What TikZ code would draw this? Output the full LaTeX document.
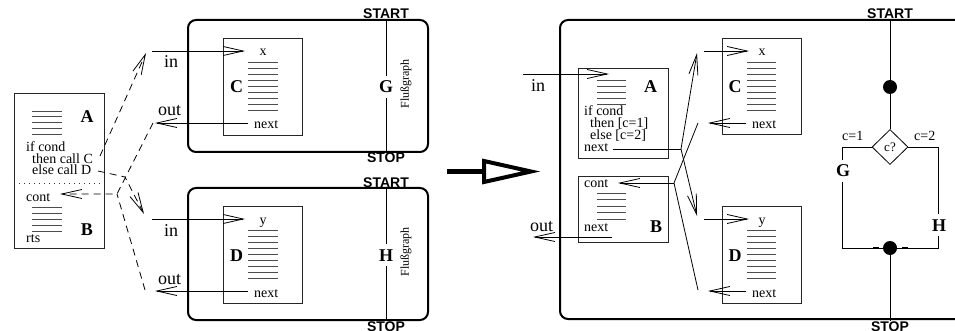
\documentclass[tikz,border=0pt]{standalone}
\usepackage{fontspec}
\setmainfont{Liberation Serif}
\newfontfamily\sansbf{Liberation Sans}
\usetikzlibrary{arrows.meta,shapes.geometric}
\newcommand\myfs[1]{\fontsize{#1}{#1}\selectfont}
\begin{document}
\begin{tikzpicture}[x=1pt,y=-1pt,
  ibox/.style={draw=black!85, line width=0.8pt, inner sep=0, outer sep=0, rectangle},
  rbox/.style={draw, line width=2pt, rounded corners=8pt, inner sep=0, outer sep=0, rectangle},
  small/.style={inner sep=0, anchor=base west, font=\myfs{14}},
  io/.style={inner sep=0, anchor=base west, font=\myfs{18}},
  big/.style={inner sep=0, anchor=base, font=\myfs{18}\bfseries},
  ss/.style={inner sep=0, anchor=base, font=\sansbf\bfseries\myfs{14}},
  arr/.style={-{Straight Barb[length=20pt,width=9pt]}, line width=0.8pt},
  dsh/.style={dash pattern=on 7pt off 5pt},
  strk/.style={draw=black!70, line width=0.8pt},
  flow/.style={line width=0.9pt},
  dot/.style={circle, fill=black, minimum size=14pt, inner sep=0},
]
\useasboundingbox (0,0) rectangle (955,331);
\clip (0,0) rectangle (955,331);

% ================= LEFT PART =================
% caller box A/B
\node[ibox, minimum width=90pt, minimum height=155pt] (AB) at (59,170.5) {};
\coordinate (dl) at (14,183); \coordinate (dr) at (104,183);
\draw[black!80, line width=0.8pt, dash pattern=on 1pt off 4pt] (dl) -- (dr);
\foreach \i in {0,...,4} \draw[strk] (32,{111+5.8*\i}) -- (62,{111+5.8*\i});
\foreach \i in {0,...,4} \draw[strk] (32,{207+6*\i}) -- (62,{207+6*\i});
\node[big] (LA) at (87,123) {A};
\node[big] (LB) at (87,235) {B};
\node[small] (ifc) at (26,152) {if cond};
\node[small] (thc) at (32,163.5) {then call C};
\node[small] (elc) at (32,175) {else call D};
\node[small] (cnt) at (26,201) {cont};
\node[small] (rts) at (26,242) {rts};

% flow graph boxes G and H
\node[rbox, minimum width=240pt, minimum height=132pt] (Gbox) at (308,86) {};
\node[rbox, minimum width=240pt, minimum height=132pt] (Hbox) at (308,254) {};
\node[ibox, minimum width=79pt, minimum height=97pt] (Cbox) at (262.5,86.5) {};
\node[ibox, minimum width=79pt, minimum height=97pt] (Dbox) at (262.5,254.5) {};
\foreach \i in {0,...,8} \draw[strk] (248,{62+6*\i}) -- (278,{62+6*\i});
\foreach \i in {0,...,8} \draw[strk] (248,{230.5+6*\i}) -- (278,{230.5+6*\i});
\node[big] (LC) at (236.5,93) {C};
\node[big] (LD) at (236.5,261) {D};
\node[small, anchor=base] (lx) at (263,56) {x};
\node[small, anchor=base] (ly) at (263,224) {y};
\node[small] (lnc) at (254,129) {next};
\node[small] (lnd) at (254,297) {next};
\node[io] (lin1) at (164,68) {in};
\node[io] (lout1) at (158,116) {out};
\node[io] (lin2) at (164,236) {in};
\node[io] (lout2) at (158,284) {out};

\node[ss] (GS) at (386,19) {START};
\node[ss] (GE) at (386,163) {STOP};
\node[ss] (HS) at (386,187) {START};
\node[ss] (HE) at (386,331) {STOP};
\draw[flow] (GS.south) -- (GE.north);
\draw[flow] (HS.south) -- (HE.north);
\node[big, fill=white, inner xsep=1pt, inner ysep=5pt] (Glab) at (386,93) {G};
\node[big, fill=white, inner xsep=1pt, inner ysep=5pt] (Hlab) at (386,261) {H};
\node[inner sep=0, rotate=90, font=\myfs{12}] (Gfl) at (406,84) {Flußgraph};
\node[inner sep=0, rotate=90, font=\myfs{12}] (Hfl) at (406,252) {Flußgraph};

% solid in/out arrows
\coordinate (ci0) at (152,51);  \coordinate (ci1) at (245,51);
\coordinate (co0) at (248,123); \coordinate (co1) at (155,123);
\coordinate (di0) at (152,219); \coordinate (di1) at (245,219);
\coordinate (do0) at (248,291); \coordinate (do1) at (155,291);
\draw[arr] (ci0) -- (ci1);
\draw[arr] (co0) -- (co1);
\draw[arr] (di0) -- (di1);
\draw[arr] (do0) -- (do1);

% dashed call/return connectors
\coordinate (tc0) at (100,156); \coordinate (tc1) at (146,53);
\coordinate (ed0) at (98,171); \coordinate (ed1) at (125,177); \coordinate (ed2) at (144,214);
\coordinate (cr0) at (153,123); \coordinate (crj) at (117,194); \coordinate (cr1) at (60,194);
\coordinate (dr0) at (145,290);
\draw[arr,dsh] (tc0) -- (tc1);
\draw[arr,dsh] (ed0) -- (ed1) -- (ed2);
\draw[arr,dsh] (cr0) -- (crj) -- (cr1);
\draw[dsh, line width=0.8pt] (dr0) -- (crj);

% ================= BIG ARROW =================
\coordinate (ba0) at (447,171.5); \coordinate (ba1) at (484,171.5);
\coordinate (bt1) at (484,161); \coordinate (bt2) at (531,171.5); \coordinate (bt3) at (484,182);
\draw[line width=4.5pt] (ba0) -- (ba1);
\draw[line width=4pt, line join=miter] (bt1) -- (bt2) -- (bt3) -- cycle;

% ================= RIGHT PART =================
\node[rbox, minimum width=415pt, minimum height=299pt] (Big) at (767.5,169.5) {};
\node[ibox, minimum width=90pt, minimum height=90pt] (RA) at (623,113) {};
\node[ibox, minimum width=90pt, minimum height=66pt] (RB) at (623,209) {};
\node[ibox, minimum width=79pt, minimum height=96pt] (RC) at (761.5,86) {};
\node[ibox, minimum width=79pt, minimum height=97pt] (RD) at (761.5,254.5) {};
\foreach \i in {0,...,4} \draw[strk] (597,{80+6.2*\i}) -- (626,{80+6.2*\i});
\foreach \i in {0,...,4} \draw[strk] (597,{193+6.5*\i}) -- (626,{193+6.5*\i});
\foreach \i in {0,...,8} \draw[strk] (747,{62+6*\i}) -- (776,{62+6*\i});
\foreach \i in {0,...,8} \draw[strk] (747,{230.5+6*\i}) -- (776,{230.5+6*\i});
\node[big] (rAl) at (650.5,93) {A};
\node[big] (rBl) at (656,232) {B};
\node[big] (rCl) at (735,93) {C};
\node[big] (rDl) at (735,261) {D};
\node[small] (rif) at (584,116) {if cond};
\node[small] (rth) at (590,128) {then [c=1]};
\node[small] (rel) at (590,140) {else [c=2]};
\node[small] (rnx) at (584,152) {next};
\node[small] (rct) at (584,188) {cont};
\node[small] (rnb) at (584,231) {next};
\node[small, anchor=base] (rx) at (762,56) {x};
\node[small, anchor=base] (ry) at (762,224) {y};
\node[small] (rnc) at (752,129) {next};
\node[small] (rnd) at (752,297) {next};
\node[io] (rin) at (531,92) {in};
\node[io] (rout) at (530,231) {out};

% right connectors
\coordinate (ri0) at (523,74);  \coordinate (ri1) at (609,74);
\coordinate (nx0) at (613,149); \coordinate (J1) at (681,149);
\coordinate (up1) at (697,53);  \coordinate (dn1) at (697,216);
\coordinate (J2) at (674,183);  \coordinate (ct1) at (618,183);
\coordinate (cr2) at (698,123); \coordinate (dr2) at (698,290);
\coordinate (bo0) at (612,237); \coordinate (bo1) at (533,237);
\coordinate (rci0) at (704,51);  \coordinate (rci1) at (749,51);
\coordinate (rco0) at (746,123); \coordinate (rco1) at (708,123);
\coordinate (rdi0) at (704,219); \coordinate (rdi1) at (749,219);
\coordinate (rdo0) at (746,291); \coordinate (rdo1) at (708,291);
\draw[arr] (ri0) -- (ri1);
\draw[line width=0.8pt] (nx0) -- (J1);
\draw[arr] (J1) -- (up1);
\draw[arr] (J1) -- (dn1);
\draw[arr] (J2) -- (ct1);
\draw[line width=0.8pt] (cr2) -- (J2) -- (dr2);
\draw[arr] (bo0) -- (bo1);
\draw[arr] (rci0) -- (rci1);
\draw[arr] (rco0) -- (rco1);
\draw[arr] (rdi0) -- (rdi1);
\draw[arr] (rdo0) -- (rdo1);

% right flow graph
\node[ss] (RS) at (890,19) {START};
\node[ss] (RE) at (890,331) {STOP};
\node[dot] (c1) at (890,87) {};
\node[dot] (c2) at (890,248) {};
\node[diamond, draw, line width=0.8pt, minimum width=36pt, minimum height=35pt, inner sep=0, font=\myfs{13}] (dia) at (890,147) {c?};
\coordinate (gl1) at (842,147); \coordinate (gl2) at (842,248);
\coordinate (hr1) at (938,147); \coordinate (hr2) at (938,248);
\draw[flow] (RS.south) -- (c1);
\draw[flow] (c1) -- (dia.north);
\draw[flow] (dia.west) -- (gl1) -- (gl2) -- (c2);
\draw[flow] (dia.east) -- (hr1) -- (hr2) -- (c2);
\draw[flow] (c2) -- (RE.north);
\coordinate (m1) at (873,248); \coordinate (m2) at (879,248);
\coordinate (m3) at (902,248); \coordinate (m4) at (908,248);
\draw[line width=2.5pt] (m1) -- (m2);
\draw[line width=2.5pt] (m3) -- (m4);
\node[big, fill=white, inner xsep=1pt, inner ysep=5pt] (rG) at (843,177) {G};
\node[big, fill=white, inner xsep=1pt, inner ysep=5pt] (rH) at (939,231) {H};
\node[small] (c1l) at (842,141) {c=1};
\node[small] (c2l) at (914,141) {c=2};
\end{tikzpicture}
\end{document}
